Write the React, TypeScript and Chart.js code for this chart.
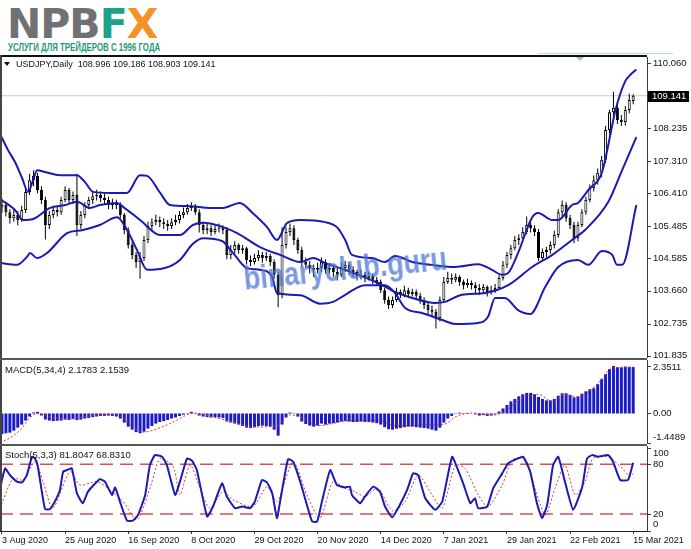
import { useEffect, useRef } from "react"
import { Chart, registerables, type ChartConfiguration } from "chart.js"

Chart.register(...registerables)

const FONT = '"Liberation Sans", Arial, Helvetica, sans-serif'
const W = 691
const X_MIN = -0.5
const X_MAX = 163.5

// --- header ---
const SYMBOL = "USDJPY,Daily"
const LAST_OHLC = ["108.996", "109.186", "108.903", "109.141"]
const LAST_PRICE = 109.141

// --- daily candles, 3 Aug 2020 .. 15 Mar 2021 (index = bar number) ---
const OPEN = [
  106.00, 106.07, 105.87, 105.70, 105.79, 105.65, 105.93, 106.44, 106.77, 106.89,
  106.49, 106.21, 105.51, 105.79, 105.93, 105.87, 106.21, 106.49, 106.21, 106.35,
  105.51, 105.79, 106.07, 106.21, 106.32, 106.35, 106.27, 106.21, 106.07, 106.13,
  106.07, 105.79, 105.37, 104.95, 104.67, 104.47, 104.58, 105.09, 105.48, 105.59,
  105.65, 105.59, 105.54, 105.48, 105.59, 105.65, 105.79, 105.87, 105.99, 106.04,
  105.87, 105.51, 105.37, 105.42, 105.31, 105.40, 105.42, 105.37, 104.67, 104.81,
  104.95, 104.81, 104.86, 104.53, 104.47, 104.58, 104.67, 104.58, 104.64, 104.47,
  104.11, 103.54, 104.95, 105.31, 105.42, 105.09, 104.81, 104.47, 104.39, 104.30,
  104.25, 104.30, 104.47, 104.25, 104.30, 104.19, 104.11, 104.30, 104.39, 104.25,
  104.19, 104.08, 104.11, 104.02, 104.08, 103.97, 103.91, 103.68, 103.40, 103.26,
  103.40, 103.63, 103.54, 103.68, 103.57, 103.63, 103.52, 103.40, 103.26, 103.12,
  103.07, 102.90, 103.40, 103.91, 104.02, 103.97, 104.05, 103.91, 103.82, 103.88,
  103.82, 103.74, 103.68, 103.77, 103.63, 103.68, 103.74, 104.02, 104.39, 104.67,
  104.86, 105.09, 105.14, 105.31, 105.51, 105.42, 105.31, 104.58, 104.75, 104.81,
  104.95, 105.23, 105.87, 106.07, 105.71, 105.51, 105.14, 105.51, 105.87, 106.21,
  106.55, 106.77, 106.98, 107.34, 108.18, 108.68, 108.80, 108.46, 108.40, 108.74,
  108.996,
]
const HIGH = [
  106.25, 106.15, 105.95, 105.95, 105.90, 106.05, 106.55, 106.95, 107.05, 106.98,
  106.60, 106.30, 105.90, 106.05, 106.05, 106.30, 106.60, 106.55, 106.45, 106.95,
  105.90, 106.15, 106.30, 106.45, 106.50, 106.45, 106.40, 106.30, 106.25, 106.22,
  106.15, 105.85, 105.45, 105.05, 104.75, 104.75, 105.20, 105.60, 105.70, 105.80,
  105.75, 105.70, 105.65, 105.70, 105.80, 105.90, 106.00, 106.10, 106.15, 106.10,
  105.95, 105.60, 105.55, 105.50, 105.50, 105.55, 105.50, 105.45, 104.95, 105.05,
  105.00, 104.95, 104.90, 104.65, 104.70, 104.80, 104.75, 104.75, 104.70, 104.55,
  104.20, 105.45, 105.45, 105.55, 105.50, 105.15, 104.90, 104.60, 104.50, 104.40,
  104.45, 104.60, 104.55, 104.45, 104.40, 104.30, 104.45, 104.50, 104.45, 104.35,
  104.25, 104.25, 104.20, 104.20, 104.15, 104.05, 103.98, 103.75, 103.50, 103.50,
  103.75, 103.70, 103.80, 103.75, 103.72, 103.70, 103.60, 103.48, 103.35, 103.25,
  103.15, 103.50, 104.05, 104.20, 104.15, 104.15, 104.10, 103.98, 104.00, 103.95,
  103.90, 103.85, 103.85, 103.82, 103.80, 103.85, 104.10, 104.50, 104.75, 104.95,
  105.20, 105.25, 105.45, 105.75, 105.65, 105.50, 105.40, 104.85, 104.90, 105.05,
  105.35, 105.95, 106.20, 106.15, 105.80, 105.60, 105.60, 105.95, 106.30, 106.65,
  106.90, 107.10, 107.45, 108.30, 108.75, 109.25, 108.95, 108.60, 108.85, 109.20,
  109.186,
]
const LOW = [
  105.85, 105.75, 105.55, 105.60, 105.50, 105.60, 105.85, 106.35, 106.60, 106.40,
  106.10, 105.10, 105.40, 105.70, 105.75, 105.80, 106.15, 106.10, 106.10, 105.20,
  105.40, 105.70, 105.95, 106.10, 106.20, 106.15, 106.10, 105.95, 105.95, 105.95,
  105.70, 105.25, 104.85, 104.55, 104.30, 104.00, 104.50, 105.00, 105.35, 105.50,
  105.45, 105.40, 105.35, 105.40, 105.50, 105.55, 105.70, 105.80, 105.90, 105.80,
  105.30, 105.25, 105.25, 105.20, 105.25, 105.30, 105.25, 104.55, 104.55, 104.70,
  104.70, 104.70, 104.40, 104.35, 104.40, 104.50, 104.45, 104.50, 104.35, 104.00,
  103.20, 103.45, 104.85, 105.20, 104.95, 104.70, 104.35, 104.30, 104.15, 104.05,
  104.15, 104.20, 104.15, 104.15, 104.05, 103.95, 104.05, 104.20, 104.10, 104.05,
  103.95, 103.98, 103.90, 103.95, 103.85, 103.80, 103.60, 103.30, 103.15, 103.18,
  103.35, 103.45, 103.48, 103.45, 103.50, 103.40, 103.30, 103.15, 103.00, 102.95,
  102.60, 102.80, 103.35, 103.85, 103.85, 103.90, 103.80, 103.70, 103.75, 103.70,
  103.60, 103.55, 103.60, 103.50, 103.55, 103.60, 103.70, 103.95, 104.30, 104.55,
  104.80, 104.95, 105.05, 105.25, 105.30, 105.20, 104.50, 104.50, 104.60, 104.70,
  104.85, 105.15, 105.75, 105.60, 105.40, 105.00, 105.05, 105.45, 105.80, 106.15,
  106.45, 106.65, 106.85, 107.25, 108.05, 108.55, 108.35, 108.30, 108.30, 108.65,
  108.903,
]
const CLOSE = [
  106.07, 105.87, 105.71, 105.79, 105.65, 105.93, 106.44, 106.77, 106.89, 106.49,
  106.21, 105.51, 105.79, 105.93, 105.87, 106.21, 106.49, 106.21, 106.35, 105.51,
  105.79, 106.07, 106.21, 106.32, 106.35, 106.27, 106.21, 106.07, 106.13, 106.07,
  105.79, 105.37, 104.95, 104.67, 104.47, 104.58, 105.09, 105.48, 105.59, 105.65,
  105.59, 105.54, 105.48, 105.59, 105.65, 105.79, 105.87, 105.99, 106.04, 105.87,
  105.51, 105.37, 105.42, 105.31, 105.40, 105.42, 105.37, 104.67, 104.81, 104.95,
  104.81, 104.86, 104.53, 104.47, 104.58, 104.67, 104.58, 104.64, 104.47, 104.11,
  103.54, 104.95, 105.31, 105.42, 105.09, 104.81, 104.47, 104.39, 104.30, 104.25,
  104.30, 104.47, 104.25, 104.30, 104.19, 104.11, 104.30, 104.39, 104.25, 104.19,
  104.08, 104.11, 104.02, 104.08, 103.97, 103.91, 103.68, 103.40, 103.26, 103.40,
  103.63, 103.54, 103.68, 103.57, 103.63, 103.52, 103.40, 103.26, 103.12, 103.07,
  102.90, 103.40, 103.91, 104.02, 103.97, 104.05, 103.91, 103.82, 103.88, 103.82,
  103.74, 103.68, 103.77, 103.63, 103.68, 103.74, 104.02, 104.39, 104.67, 104.86,
  105.09, 105.14, 105.31, 105.51, 105.42, 105.31, 104.58, 104.75, 104.81, 104.95,
  105.23, 105.87, 106.07, 105.71, 105.51, 105.14, 105.51, 105.87, 106.21, 106.55,
  106.77, 106.98, 107.34, 108.18, 108.68, 108.80, 108.46, 108.40, 108.74, 109.02,
  109.141,
]

// --- Bollinger bands at these bar positions ---
const UPPER_AT = [
  -0.5, 1.5, 3.3, 5.1, 6.6, 7.9, 8.9, 10.9, 14.7, 19.0, 21.0, 23.1, 27.4, 31.7, 35.0, 36.8,
  40.1, 42.6, 47.7, 52.7, 56.0, 60.3, 63.6, 67.2, 69.7, 72.3, 75.6, 81.9, 84.9, 87.0, 88.7,
  93.8, 97.1, 99.6, 104.0, 109.0, 114.9, 120.7, 124.2, 126.8, 128.3, 130.8, 134.4, 135.9,
  139.5, 141.0, 144.5, 146.0, 148.6, 152.1, 154.7, 155.4, 157.9, 159.2, 160.8,
]
const UPPER = [
  108.07, 107.62, 107.28, 106.83, 106.44, 106.77, 107.05, 107.00, 106.91, 106.91, 106.72, 106.44, 106.41, 106.41, 106.91, 106.89,
  106.41, 106.07, 106.04, 105.99, 105.99, 106.13, 105.84, 105.45, 105.09, 105.57, 105.65, 105.59, 105.45, 105.09, 104.67,
  104.58, 104.47, 104.64, 104.47, 104.39, 104.33, 104.41, 104.25, 104.11, 104.16, 104.72, 105.73, 105.85,
  105.65, 105.65, 106.07, 106.13, 106.49, 107.00, 108.32, 108.69, 109.53, 109.72, 109.88,
]
const MIDDLE_AT = [
  -0.5, 3.3, 5.3, 7.9, 12.2, 16.0, 19.0, 22.3, 24.8, 29.2, 30.7, 35.0, 40.1, 45.1, 48.4, 51.0,
  56.0, 59.6, 65.4, 70.5, 75.6, 78.9, 81.9, 87.0, 95.3, 99.6, 104.0, 109.8, 112.3, 116.6, 122.5,
  128.3, 134.4, 139.5, 144.5, 147.8, 153.7, 157.2, 160.8,
]
const MIDDLE = [
  106.24, 105.93, 105.65, 105.68, 105.99, 106.07, 106.16, 105.99, 106.07, 106.13, 106.02, 105.65, 105.23, 105.23, 105.51, 105.57,
  105.45, 105.28, 104.89, 104.67, 104.47, 104.58, 104.44, 104.25, 103.88, 103.63, 103.46, 103.32, 103.35, 103.55, 103.60,
  103.82, 104.33, 104.67, 105.09, 105.37, 106.16, 107.05, 107.98,
]
const LOWER_AT = [
  -0.5, 3.8, 6.3, 7.1, 8.9, 11.4, 16.5, 20.5, 24.8, 29.2, 31.7, 34.2, 36.8, 41.3, 45.1, 48.4,
  51.0, 55.8, 58.6, 62.1, 65.4, 68.5, 69.7, 75.6, 80.6, 83.9, 87.0, 92.0, 97.1, 99.6, 102.2,
  106.5, 111.6, 114.9, 120.7, 123.2, 125.0, 127.5, 130.8, 133.9, 137.7, 141.0, 146.0, 148.6,
  152.1, 154.7, 155.9, 157.2, 160.8,
]
const LOWER = [
  104.44, 104.39, 104.61, 104.72, 104.58, 104.72, 105.28, 105.37, 105.51, 105.73, 105.37, 104.81, 104.25, 104.30, 104.53, 104.98,
  105.14, 105.06, 104.72, 104.30, 104.25, 104.05, 103.60, 103.54, 103.30, 103.35, 103.55, 103.82, 103.82, 103.60, 103.18,
  103.04, 102.84, 102.73, 102.76, 102.93, 103.46, 103.46, 103.12, 103.01, 103.77, 104.33, 104.53, 104.39,
  104.78, 104.67, 104.39, 104.39, 106.07,
]

// --- MACD(5,34,4) ---
const MACD_HIST = [
  -1.02, -0.98, -0.95, -0.85, -0.70, -0.55, -0.35, -0.15, 0.05, 0.08,
  -0.10, -0.30, -0.35, -0.38, -0.36, -0.35, -0.30, -0.32, -0.28, -0.33,
  -0.30, -0.25, -0.22, -0.18, -0.15, -0.12, -0.12, -0.10, -0.12, -0.15,
  -0.25, -0.45, -0.65, -0.80, -0.92, -0.98, -0.90, -0.75, -0.62, -0.50,
  -0.42, -0.38, -0.32, -0.25, -0.20, -0.12, -0.06, 0.02, 0.08, 0.02,
  -0.10, -0.15, -0.18, -0.20, -0.18, -0.20, -0.22, -0.40, -0.45, -0.50,
  -0.55, -0.62, -0.70, -0.72, -0.68, -0.62, -0.60, -0.62, -0.65, -0.80,
  -1.10, -0.55, -0.20, 0.05, 0.02, -0.15, -0.40, -0.52, -0.60, -0.65,
  -0.60, -0.50, -0.55, -0.50, -0.48, -0.45, -0.40, -0.38, -0.40, -0.42,
  -0.42, -0.40, -0.42, -0.42, -0.45, -0.48, -0.55, -0.68, -0.78, -0.80,
  -0.75, -0.72, -0.68, -0.65, -0.65, -0.68, -0.70, -0.72, -0.75, -0.80,
  -0.85, -0.70, -0.45, -0.25, -0.12, -0.02, 0.04, 0.02, 0.03, 0.00,
  -0.04, -0.10, -0.08, -0.12, -0.10, -0.05, 0.10, 0.25, 0.42, 0.60,
  0.72, 0.85, 0.95, 1.02, 1.02, 0.95, 0.82, 0.72, 0.65, 0.65,
  0.72, 0.88, 1.00, 1.00, 0.92, 0.80, 0.85, 0.98, 1.10, 1.20,
  1.25, 1.45, 1.70, 1.95, 2.20, 2.35, 2.30, 2.28, 2.32, 2.30,
  2.30,
]
const MACD_SIGNAL_AT = [
  -0.5, 2.0, 4.6, 7.1, 8.9, 12.2, 16.5, 24.8, 29.2, 33.2, 35.7, 41.8, 46.9, 48.4, 53.5, 58.6,
  63.6, 69.7, 73.0, 75.6, 80.6, 87.0, 95.3, 99.6, 108.0, 112.3, 114.9, 119.2, 125.0, 127.5,
  132.6, 135.9, 139.5, 142.7, 146.0, 151.1, 154.7, 160.0,
]
const MACD_SIGNAL = [
  -1.43, -1.21, -0.82, -0.22, 0.0, -0.17, -0.27, -0.07, -0.07, -0.67, -0.92, -0.57, -0.07, 0.02, -0.17, -0.42,
  -0.67, -0.60, -0.07, -0.17, -0.60, -0.37, -0.33, -0.60, -0.57, -0.52, -0.17, 0.02, -0.07, 0.13,
  0.85, 0.95, 0.60, 0.95, 0.80, 1.50, 2.25, 2.30,
]
const MACD_TICKS = [2.3511, 0, -1.4489]
const MACD_TICK_LABELS = ["2.3511", "0.00", "-1.4489"]

// --- Stochastic(5,3,3) ---
const STOCH_K_AT = [
  -0.5, 0.8, 2.0, 3.8, 5.1, 6.3, 7.6, 8.4, 9.1, 10.9, 12.2, 13.4, 14.7, 15.5, 16.5, 17.7,
  19.0, 20.5, 21.8, 24.8, 26.1, 27.9, 28.7, 29.9, 31.7, 33.2, 34.5, 36.3, 37.5, 38.8, 40.6,
  41.8, 43.9, 45.1, 46.9, 48.2, 49.4, 52.0, 53.5, 55.8, 57.0, 59.1, 60.9, 62.9, 64.1, 65.9,
  67.2, 68.5, 69.7, 70.5, 72.5, 73.8, 75.6, 78.6, 79.9, 81.1, 83.2, 84.9, 87.0, 88.2, 88.7,
  90.8, 92.0, 94.1, 95.8, 97.1, 98.9, 100.4, 102.7, 104.2, 105.5, 107.3, 109.8, 111.6, 114.1,
  115.6, 116.9, 118.7, 119.9, 120.7, 123.0, 124.5, 126.8, 128.3, 130.8, 132.1, 133.9, 135.6,
  136.9, 138.2, 139.7, 141.0, 142.7, 144.8, 147.1, 148.3, 149.6, 151.1, 153.7, 154.9, 156.7,
  158.7, 160.0,
]
const STOCH_K = [
  51, 75, 67, 59, 58, 67, 89, 87, 77, 26, 26, 35, 49, 71, 73, 75,
  45, 33, 47, 62, 59, 43, 52, 35, 12, 12, 19, 43, 79, 91, 89,
  79, 43, 59, 87, 84, 73, 17, 29, 57, 41, 27, 29, 27, 35, 61,
  58, 45, 15, 35, 86, 83, 59, 11, 11, 35, 73, 55, 52, 53, 43,
  33, 41, 53, 47, 29, 16, 27, 49, 69, 67, 39, 25, 35, 89,
  73, 57, 33, 39, 27, 29, 51, 69, 81, 87, 89, 71, 33,
  15, 31, 79, 89, 59, 25, 53, 87, 91, 89, 91, 83, 61,
  61, 81.8,
]
const STOCH_D_AT = [
  -0.5, 2.8, 5.3, 8.4, 10.4, 12.9, 17.2, 19.8, 24.1, 27.4, 30.7, 34.2, 37.5, 40.1, 43.4, 45.1,
  47.7, 50.2, 52.7, 56.0, 58.6, 63.6, 67.2, 69.7, 73.8, 77.3, 80.6, 83.9, 87.0, 89.5, 92.0,
  95.3, 98.9, 102.2, 105.5, 109.0, 111.6, 114.9, 117.4, 120.7, 123.2, 126.8, 129.3, 132.6,
  135.1, 137.7, 140.2, 142.7, 145.3, 147.8, 149.8, 153.7, 157.2, 159.2, 160.0,
]
const STOCH_D = [
  27, 63, 61, 83, 59, 27, 71, 55, 59, 49, 35, 13, 51, 87, 77, 43,
  79, 51, 27, 47, 37, 29, 53, 35, 83, 43, 15, 59, 51, 47, 41,
  51, 24, 35, 67, 43, 27, 79, 75, 43, 29, 55, 85, 87,
  51, 19, 51, 79, 43, 59, 87, 89, 75, 65, 68.8,
]
const STOCH_LEVELS = [80, 20]
const STOCH_TICKS = [100, 80, 20, 0]
const STOCH_LAST = ["81.8047", "68.8310"]
const MACD_LAST = ["2.1783", "2.1539"]

// --- axes ---
const PRICE_TICKS = [110.06, 108.235, 107.31, 106.41, 105.485, 104.585, 103.66, 102.735, 101.835]
const DATE_AT = [0, 16, 32, 48, 64, 80, 96, 112, 128, 144, 160]
const DATE_LABELS = [
  "3 Aug 2020", "25 Aug 2020", "16 Sep 2020", "8 Oct 2020", "29 Oct 2020", "20 Nov 2020",
  "14 Dec 2020", "7 Jan 2021", "29 Jan 2021", "22 Feb 2021", "15 Mar 2021",
]

const BLUE = "#1a1ab4"
const RED = "#e0342f"

// right-hand price scale in the MT4 manner (labels clamped inside the pane)
const axisLabels = {
  id: "axisLabels",
  afterDatasetsDraw(chart: any, _args: any, o: any) {
    const { ctx, chartArea } = chart
    const { right, top, bottom } = chartArea
    const y = chart.scales.y
    ctx.save()
    ctx.strokeStyle = "#3a3a3a"
    ctx.lineWidth = 1
    ctx.beginPath()
    ctx.moveTo(right + 0.5, top)
    ctx.lineTo(right + 0.5, bottom)
    ctx.stroke()
    ctx.font = `${o.size}px ${FONT}`
    ctx.fillStyle = "#111"
    ctx.textBaseline = "middle"
    ctx.textAlign = "left"
    o.values.forEach((v: number, k: number) => {
      const py = y.getPixelForValue(v)
      const ty = Math.round(py) + 0.5
      ctx.beginPath()
      ctx.moveTo(right, ty)
      ctx.lineTo(right + 4, ty)
      ctx.stroke()
      const ly = Math.min(Math.max(py, top + o.clamp), bottom - o.clamp)
      ctx.fillText(o.labels[k], right + 6, ly)
    })
    if (o.marker != null) {
      const py = Math.round(y.getPixelForValue(o.marker))
      ctx.fillStyle = "#000"
      ctx.fillRect(right + 1, py - 5, 41, 11)
      ctx.fillStyle = "#fff"
      ctx.fillText(o.markerLabel, right + 5, py + 0.5)
    }
    ctx.restore()
  },
}

const hiddenX = { type: "linear", min: X_MIN, max: X_MAX, offset: false, display: false }

const baseOptions = {
  responsive: true,
  maintainAspectRatio: false,
  animation: false,
  events: [],
  layout: { padding: { left: 0, right: 44, top: 0, bottom: 0 } },
}

const pts = (at: number[], vals: number[]) => at.map((x, k) => ({ x, y: vals[k] }))

function mainConfig(): ChartConfiguration {
  return {
    type: "bar",
    data: {
      datasets: [
        {
          type: "line",
          data: [{ x: X_MIN, y: LAST_PRICE }, { x: X_MAX, y: LAST_PRICE }],
          borderColor: "#c9c9c9", borderWidth: 1, pointRadius: 0, order: 4,
        },
        {
          type: "bar",
          data: CLOSE.map((_, i) => ({ x: i, y: [LOW[i], HIGH[i]] })),
          backgroundColor: "#000", barThickness: 1, grouped: false, inflateAmount: 0, borderWidth: 0, order: 3,
        },
        {
          type: "bar",
          data: CLOSE.map((c, i) => ({ x: i, y: [OPEN[i], c] })),
          backgroundColor: CLOSE.map((c, i) => (c >= OPEN[i] ? "#fff" : "#000")),
          borderColor: "#000", borderWidth: 1, borderSkipped: false,
          barThickness: 3, grouped: false, inflateAmount: 0, order: 2,
        },
        ...[pts(UPPER_AT, UPPER), pts(MIDDLE_AT, MIDDLE), pts(LOWER_AT, LOWER)].map((d) => ({
          type: "line", data: d, borderColor: BLUE, borderWidth: 2, pointRadius: 0,
          cubicInterpolationMode: "monotone", order: 1,
        })),
      ],
    } as any,
    options: {
      ...baseOptions,
      scales: {
        x: hiddenX,
        y: { type: "linear", min: 101.774, max: 110.229, display: false },
      },
      plugins: {
        legend: { display: false },
        tooltip: { enabled: false },
        axisLabels: {
          values: PRICE_TICKS, labels: PRICE_TICKS.map((v) => v.toFixed(3)),
          size: 9.5, clamp: 0, marker: LAST_PRICE, markerLabel: LAST_PRICE.toFixed(3),
        },
      },
    } as any,
    plugins: [axisLabels],
  }
}

function macdConfig(): ChartConfiguration {
  return {
    type: "bar",
    data: {
      datasets: [
        {
          type: "line", data: pts(MACD_SIGNAL_AT, MACD_SIGNAL),
          borderColor: RED, borderWidth: 1, borderDash: [2, 2], pointRadius: 0,
          cubicInterpolationMode: "monotone", order: 1,
        },
        {
          type: "bar", data: MACD_HIST.map((v, i) => ({ x: i, y: v })),
          backgroundColor: "#1c1cc6", barThickness: 3, grouped: false, inflateAmount: 0, borderWidth: 0, order: 2,
        },
      ],
    } as any,
    options: {
      ...baseOptions,
      scales: {
        x: hiddenX,
        y: { type: "linear", min: -1.51, max: 2.648, display: false },
      },
      plugins: {
        legend: { display: false },
        tooltip: { enabled: false },
        axisLabels: { values: MACD_TICKS, labels: MACD_TICK_LABELS, size: 9.5, clamp: 7 },
      },
    } as any,
    plugins: [axisLabels],
  }
}

function stochConfig(): ChartConfiguration {
  return {
    type: "line",
    data: {
      datasets: [
        ...STOCH_LEVELS.map((l) => ({
          data: [{ x: X_MIN, y: l }, { x: X_MAX, y: l }],
          borderColor: "#d9504c", borderWidth: 1.6, borderDash: [13, 7], pointRadius: 0, order: 3,
        })),
        {
          data: pts(STOCH_D_AT, STOCH_D), borderColor: RED, borderWidth: 1, borderDash: [2, 2],
          pointRadius: 0, tension: 0.25, order: 2,
        },
        {
          data: pts(STOCH_K_AT, STOCH_K), borderColor: BLUE, borderWidth: 2,
          pointRadius: 0, tension: 0.15, order: 1,
        },
      ],
    } as any,
    options: {
      ...baseOptions,
      scales: {
        x: {
          type: "linear", min: X_MIN, max: X_MAX, offset: false, position: "bottom",
          afterBuildTicks: (s: any) => { s.ticks = DATE_AT.map((value) => ({ value })) },
          afterFit: (s: any) => { s.height = 18; s.paddingLeft = 0; s.paddingRight = 0 },
          ticks: {
            autoSkip: false, maxRotation: 0, minRotation: 0, align: "start", padding: 1,
            font: { family: FONT, size: 9 }, color: "#111",
            callback: (_v: any, i: number) => DATE_LABELS[i],
          },
          grid: { display: true, drawOnChartArea: false, drawTicks: true, tickLength: 3, color: "#333" },
          border: { display: true, color: "#222" },
        },
        y: { type: "linear", min: -0.5, max: 102, display: false },
      },
      plugins: {
        legend: { display: false },
        tooltip: { enabled: false },
        axisLabels: { values: STOCH_TICKS, labels: STOCH_TICKS.map(String), size: 9.5, clamp: 7 },
      },
    } as any,
    plugins: [axisLabels],
  }
}

function Pane({ top, height, make }: { top: number; height: number; make: () => ChartConfiguration }) {
  const ref = useRef<HTMLCanvasElement>(null)
  useEffect(() => {
    if (!ref.current) return
    const chart = new Chart(ref.current, make())
    return () => { chart.destroy() }
  }, [make])
  return (
    <div style={{ position: "absolute", left: 0, top, width: W, height }}>
      <canvas ref={ref} />
    </div>
  )
}

const abs = (s: React.CSSProperties): React.CSSProperties => ({ position: "absolute", ...s })

export default function App() {
  return (
    <div style={{ position: "fixed", left: 0, top: 0, width: W, height: 549, overflow: "hidden", background: "#fff", fontFamily: FONT }}>
      {/* logo */}
      <div style={abs({ left: 7, top: 3, fontFamily: '"DejaVu Sans", sans-serif', fontWeight: 700, fontSize: 41, lineHeight: "42px", letterSpacing: -1, whiteSpace: "nowrap" })}>
        <span style={{ color: "#707173" }}>NPB</span>
        <span style={{ color: "#1ca386" }}>F</span>
        <span style={{ color: "#f39325" }}>X</span>
      </div>
      <div style={abs({ left: 8, top: 42, fontSize: 11, lineHeight: "11px", fontWeight: 700, color: "#1d9a78", whiteSpace: "nowrap", transform: "scaleX(0.715)", transformOrigin: "0 0" })}>
        УСЛУГИ ДЛЯ ТРЕЙДЕРОВ С 1996 ГОДА
      </div>
      <div style={abs({ left: 538, top: 53, width: 135, height: 1, background: "#b4daf0" })} />

      <Pane top={57} height={301} make={mainConfig} />
      <Pane top={360} height={84} make={macdConfig} />
      <Pane top={446} height={103} make={stochConfig} />

      {/* frame and pane separators */}
      <div style={abs({ left: 0, top: 55, width: 647, height: 2, background: "#111" })} />
      <div style={abs({ left: 0, top: 55, width: 2, height: 476, background: "#444" })} />
      <div style={abs({ left: 0, top: 358, width: 647, height: 2, background: "#555" })} />
      <div style={abs({ left: 0, top: 444, width: 647, height: 2, background: "#555" })} />
      <div style={abs({ left: 576, top: 57, width: 0, height: 0, borderLeft: "4px solid transparent", borderRight: "4px solid transparent", borderTop: "4px solid #b8b8b8" })} />

      {/* pane captions */}
      <div style={abs({ left: 4, top: 62, width: 0, height: 0, borderLeft: "3px solid transparent", borderRight: "3px solid transparent", borderTop: "4px solid #111" })} />
      <div style={abs({ left: 16, top: 59, fontSize: 9, lineHeight: "10px", color: "#111", whiteSpace: "pre" })}>
        {`${SYMBOL}  ${LAST_OHLC.join(" ")}`}
      </div>
      <div style={abs({ left: 5, top: 365, fontSize: 9.5, lineHeight: "10px", color: "#111", whiteSpace: "pre" })}>
        {`MACD(5,34,4) ${MACD_LAST.join(" ")}`}
      </div>
      <div style={abs({ left: 5, top: 450, fontSize: 9.5, lineHeight: "10px", color: "#111", whiteSpace: "pre" })}>
        {`Stoch(5,3,3) ${STOCH_LAST.join(" ")}`}
      </div>

      {/* watermark */}
      <div style={abs({ left: 245, top: 268, fontSize: 27, lineHeight: "27px", fontWeight: 700, color: "rgba(70,115,210,0.72)", whiteSpace: "nowrap", transform: "rotate(-5.7deg) scaleY(1.25)", transformOrigin: "0 23px" })}>
        binaryclub.guru
      </div>
    </div>
  )
}
